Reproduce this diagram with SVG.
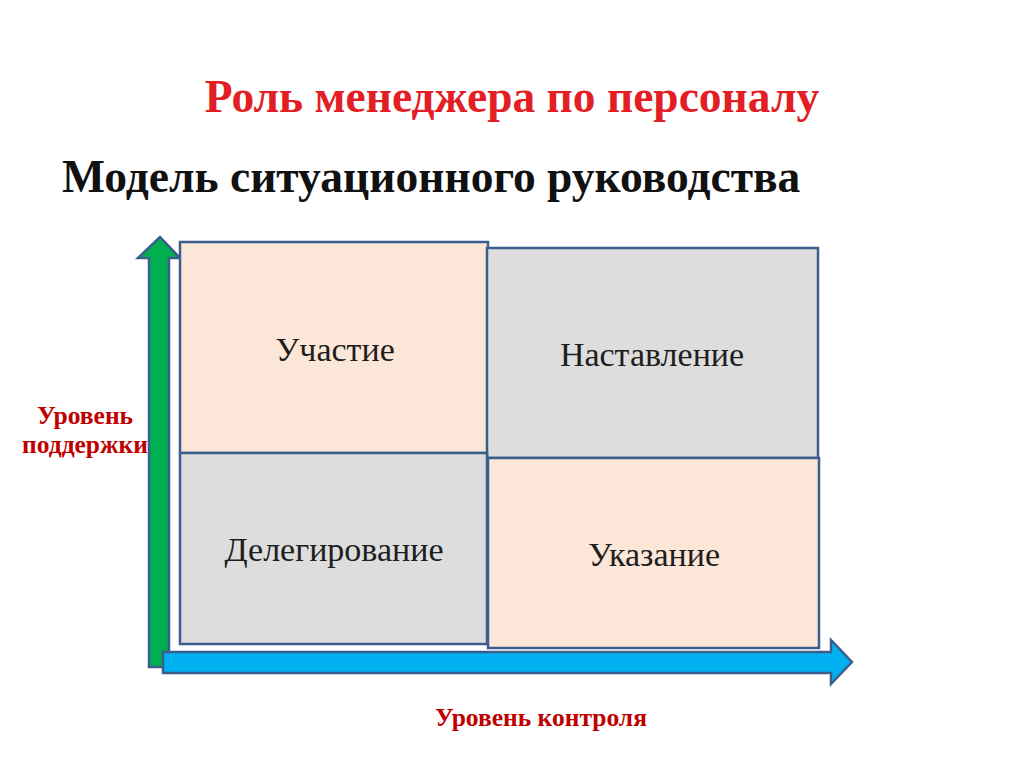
<svg xmlns="http://www.w3.org/2000/svg" width="1024" height="767" viewBox="0 0 1024 767">
<style>
.box{stroke:#3B5E8C;stroke-width:2.5}
.peach{fill:#FCE6D7}
.gray{fill:#DDDDDD}
.lbl{font-family:"Liberation Serif",serif;font-size:34px;fill:#1E1E1E;text-anchor:middle}
.axis{font-family:"Liberation Serif",serif;font-size:25.5px;font-weight:bold;fill:#C00000;text-anchor:middle}
.arrow{stroke:#3B5E8C;stroke-width:2.5;stroke-linejoin:miter}
</style>
<rect width="1024" height="767" fill="#FFFFFF"/>
<text x="512" y="112" font-family="Liberation Serif,serif" font-size="45.5" font-weight="bold" fill="#E31E24" text-anchor="middle">Роль менеджера по персоналу</text>
<text x="62" y="192" font-family="Liberation Serif,serif" font-size="45.5" font-weight="bold" fill="#111">Модель ситуационного руководства</text>
<g id="connectors">
<polygon class="arrow" fill="#00B050" points="149,667 169,667 169,258 180,258 160,237 138,258 149,258"/>
<polygon class="arrow" fill="#00B0F0" points="163,652 831,652 831,640 852,662 831,684 831,673 163,673"/>
</g>
<g id="participation">
<rect class="box peach" x="180" y="242" width="308" height="211"/>
<text class="lbl" x="335" y="361">Участие</text>
</g>
<g id="instruction">
<rect class="box gray" x="487" y="248" width="331" height="210"/>
<text class="lbl" x="652" y="366">Наставление</text>
</g>
<g id="delegation">
<rect class="box gray" x="180" y="453" width="307" height="191"/>
<text class="lbl" x="334" y="561">Делегирование</text>
</g>
<g id="directive">
<rect class="box peach" x="488" y="458" width="331" height="190"/>
<text class="lbl" x="654" y="566">Указание</text>
</g>
<g id="support-label">
<text class="axis" x="85" y="424">Уровень</text>
<text class="axis" x="85" y="453">поддержки</text>
</g>
<g id="control-label">
<text class="axis" x="541" y="726">Уровень контроля</text>
</g>
</svg>
